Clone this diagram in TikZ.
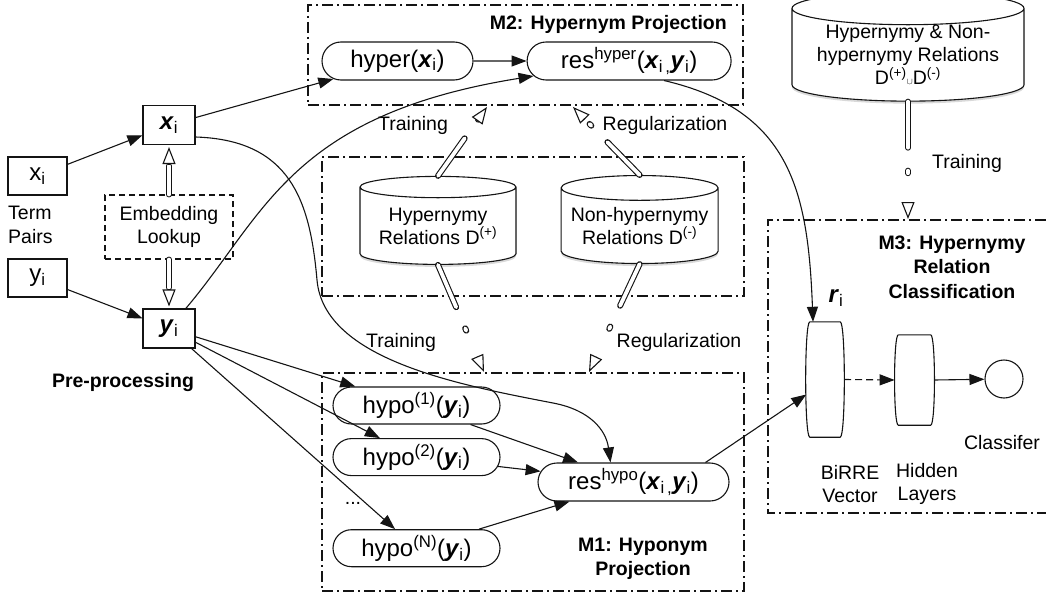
\documentclass[tikz,border=0pt]{standalone}
\usepackage{fontspec}
\setmainfont{Liberation Sans}
\usepackage{tikz}
\usetikzlibrary{arrows.meta,positioning,calc,shapes.geometric,shapes.misc,shadows}
\definecolor{hbedge}{RGB}{20,20,20}
\newcommand{\termx}{\textbf{\textit{x}}}
\newcommand{\termy}{\textbf{\textit{y}}}
\newcommand{\relr}{\textbf{\textit{r}}}
\tikzset{
  hbbox/.style={
    draw=hbedge, line width=1.1pt, fill=white, align=center,
    inner sep=0pt, font=\fontsize{24}{26}\selectfont
  },
  term/.style={hbbox, minimum width=59pt, minimum height=38pt},
  vterm/.style={hbbox, minimum width=52pt, minimum height=39pt},
  proj/.style={hbbox, rounded rectangle, minimum height=38pt},
  lookup/.style={
    hbbox, dash pattern=on 6pt off 4pt, minimum width=128pt,
    minimum height=64pt, font=\fontsize{19.5}{23}\selectfont
  },
  dbstore/.style={
    hbbox, cylinder, shape border rotate=90, aspect=0.18,
    font=\fontsize{19.5}{23}\selectfont,
    drop shadow={shadow xshift=0pt, shadow yshift=-2.5pt, opacity=0.3}
  },
  nnlayer/.style={inner sep=0pt},
  barrel/.style={draw=hbedge, line width=1.1pt},
  clsunit/.style={hbbox, circle, minimum size=38pt},
  module/.style={draw=hbedge, line width=1.1pt, dash pattern=on 11pt off 4pt on 2pt off 4pt},
  lbl/.style={align=center, inner sep=0pt, font=\fontsize{19.5}{23.5}\selectfont},
  modtitle/.style={lbl, font=\fontsize{19.5}{24.5}\selectfont\bfseries},
  arr/.style={-{Triangle[length=15pt,width=11pt]}, draw=hbedge, line width=1.1pt},
  darr/.style={arr, dash pattern=on 7pt off 4pt},
  pipe/.style={draw=hbedge, double=white, double distance=3.8pt, line width=1.1pt, line cap=round},
  gappipe/.style={pipe, dash pattern=on 46pt off 23pt on 2.5pt off 200pt},
  hollow/.style={-{Triangle[fill=white,length=17pt,width=13pt]}, draw=hbedge, line width=1.1pt}
}

\begin{document}
\begin{tikzpicture}[x=1pt, y=-1pt]
  \useasboundingbox (0,0) rectangle (1046,594);
  % module frames
  \node[module, minimum width=435pt, minimum height=100pt] (m2) at (525.5,55) {};
  \node[module, minimum width=422pt, minimum height=139pt] (dbs) at (533,226.5) {};
  \node[module, minimum width=422pt, minimum height=218pt] (m1) at (533,482) {};
  \draw[module] (1046,220) -- (768,220) -- (768,513) -- (1046,513);
  \node[modtitle, anchor=east] (m2t) at (727,24) {M2: Hypernym Projection};
  \node[modtitle] (m1t) at (643,559) {M1: Hyponym\\Projection};
  \node[modtitle] (m3t) at (952,267) {M3: Hypernymy\\Relation\\Classification};

  % pre-processing
  \node[term] (xs) at (37.5,176) {x\textsubscript{i}};
  \node[term] (ys) at (37.5,278) {y\textsubscript{i}};
  \node[lbl, anchor=west, align=left] (pairs) at (8,225) {Term\\Pairs};
  \node[vterm] (xb) at (169,125) {\termx\textsubscript{i}};
  \node[vterm] (yb) at (169,328.5) {\termy\textsubscript{i}};
  \node[lookup] (emb) at (169,227) {Embedding\\Lookup};
  \node[modtitle] (prep) at (123,382) {Pre-processing};

  % M2
  \node[proj, minimum width=151pt] (hyper) at (397.5,61) {hyper(\termx\textsubscript{i})};
  \node[proj, minimum width=204pt, right=53pt of hyper] (rhyper)
    {res\textsuperscript{hyper}(\termx\textsubscript{i\,,}\termy\textsubscript{i})};

  % relation stores
  \node[dbstore, minimum width=156pt, minimum height=88pt] (hypc) at (438,226)
    {Hypernymy\\Relations D\textsuperscript{(+)}};
  \node[dbstore, minimum width=157pt, minimum height=88pt, right=44pt of hypc] (nhypc)
    {Non-hypernymy\\Relations D\textsuperscript{(-)}};
  \node[dbstore, minimum width=232pt, minimum height=104pt] (bigc) at (908,55)
    {Hypernymy \& Non-\\hypernymy Relations\\D\textsuperscript{(+)}{\small$\cup$}D\textsuperscript{(-)}};

  % M1
  \node[proj, minimum width=167pt, minimum height=37pt] (hypo1) at (416.5,405.5)
    {hypo\textsuperscript{(1)}(\termy\textsubscript{i})};
  \node[proj, minimum width=167pt, minimum height=37pt, below=13.5pt of hypo1] (hypo2)
    {hypo\textsuperscript{(2)}(\termy\textsubscript{i})};
  \node[proj, minimum width=167pt, minimum height=37pt, below=53pt of hypo2] (hypoN)
    {hypo\textsuperscript{(N)}(\termy\textsubscript{i})};
  \node[lbl] (dots) at (353,503) {...};
  \node[proj, minimum width=191pt] (rhypo) at (633.5,482)
    {res\textsuperscript{hypo}(\termx\textsubscript{i\,,}\termy\textsubscript{i})};

  % M3
  \node[nnlayer, minimum width=30pt, minimum height=115pt] (birre) at (825,379.5) {};
  \node[nnlayer, minimum width=32pt, minimum height=90pt] (hidden) at (914.5,380) {};
  \draw[barrel] (birre.north west) -- (birre.north east)
    .. controls ([xshift=5.5pt]birre.north east) and ([xshift=5.5pt]birre.south east) .. (birre.south east)
    -- (birre.south west)
    .. controls ([xshift=-5.5pt]birre.south west) and ([xshift=-5.5pt]birre.north west) .. (birre.north west);
  \draw[barrel] (hidden.north west) -- (hidden.north east)
    .. controls ([xshift=5pt]hidden.north east) and ([xshift=5pt]hidden.south east) .. (hidden.south east)
    -- (hidden.south west)
    .. controls ([xshift=-5pt]hidden.south west) and ([xshift=-5pt]hidden.north west) .. (hidden.north west);
  \node[clsunit] (cls) at (1004,379) {};
  \node[hbbox, draw=none, fill=none] (rlab) at (836,298) {\relr\textsubscript{i}};
  \node[lbl] (birrel) at (850,484) {BiRRE\\Vector};
  \node[lbl] (hiddenl) at (927,484) {Hidden\\Layers};
  \node[lbl] (clsl) at (1002,443) {Classifer};

  % training labels
  \node[lbl] (trn1) at (413,125) {Training};
  \node[lbl] (reg1) at (665,125) {Regularization};
  \node[lbl] (trn2) at (401,342) {Training};
  \node[lbl] (reg2) at (679,342) {Regularization};
  \node[lbl] (trn3) at (967,163) {Training};

  \coordinate (t1) at (487,107);
  \coordinate (t2) at (573,107);
  \coordinate (t3) at (484,372);
  \coordinate (t4) at (589,372);
  \coordinate (t5) at (908,219);

  % embedding lookup
  \draw[pipe] (emb.north) -- ([yshift=-21pt]xb.south);
  \draw[hollow] ([yshift=-19pt]xb.south) -- ([yshift=-2pt]xb.south);
  \draw[pipe] (emb.south) -- ([yshift=21pt]yb.north);
  \draw[hollow] ([yshift=19pt]yb.north) -- ([yshift=2pt]yb.north);

  \draw[arr] (xs) -- (xb);
  \draw[arr] (ys) -- (yb);
  \draw[arr] (xb) -- (hyper);
  \draw[arr] (hyper) -- (rhyper);
  \draw[arr] (yb.50) .. controls (265,215) and (290,115) .. ([xshift=7pt,yshift=-15pt]rhyper.west);
  \draw[arr] ([yshift=-12pt]xb.east) .. controls (290,140) and (310,200) .. (317,280)
    .. controls (324,360) and (460,385) .. (553,403)
    .. controls (590,410) and (606,430) .. ([xshift=-23pt]rhypo.north);
  \draw[arr] (yb) -- (hypo1);
  \draw[arr] (yb) -- (hypo2);
  \draw[arr] (yb) -- (hypoN);
  \draw[arr] (hypo1) -- (rhypo);
  \draw[arr] (hypo2) -- (rhypo);
  \draw[arr] (hypoN) -- (rhypo);
  \draw[arr] ([xshift=72pt]rhypo.north) -- ([xshift=-3.5pt,yshift=-15pt]birre.west);
  \draw[arr] ([xshift=35pt]rhyper.south) .. controls (790,110) and (808,190) .. ([xshift=-12pt]birre.north);
  \draw[darr] ([xshift=4pt]birre.east) -- ([xshift=-3.7pt]hidden.west);
  \draw[arr] ([xshift=3.7pt]hidden.east) -- (cls);

  % training / regularization flows
  \draw[gappipe] (hypc.north) -- (t1);
  \draw[hollow] ($(t1)!17pt!(hypc.north)$) -- (t1);
  \draw[gappipe] (nhypc.north) -- (t2);
  \draw[hollow] ($(t2)!17pt!(nhypc.north)$) -- (t2);
  \draw[gappipe] (hypc.south) -- (t3);
  \draw[hollow] ($(t3)!17pt!(hypc.south)$) -- (t3);
  \draw[gappipe] (nhypc.south) -- (t4);
  \draw[hollow] ($(t4)!17pt!(nhypc.south)$) -- (t4);
  \draw[gappipe] (bigc.south) -- (t5);
  \draw[hollow] ($(t5)!17pt!(bigc.south)$) -- (t5);
\end{tikzpicture}
\end{document}
